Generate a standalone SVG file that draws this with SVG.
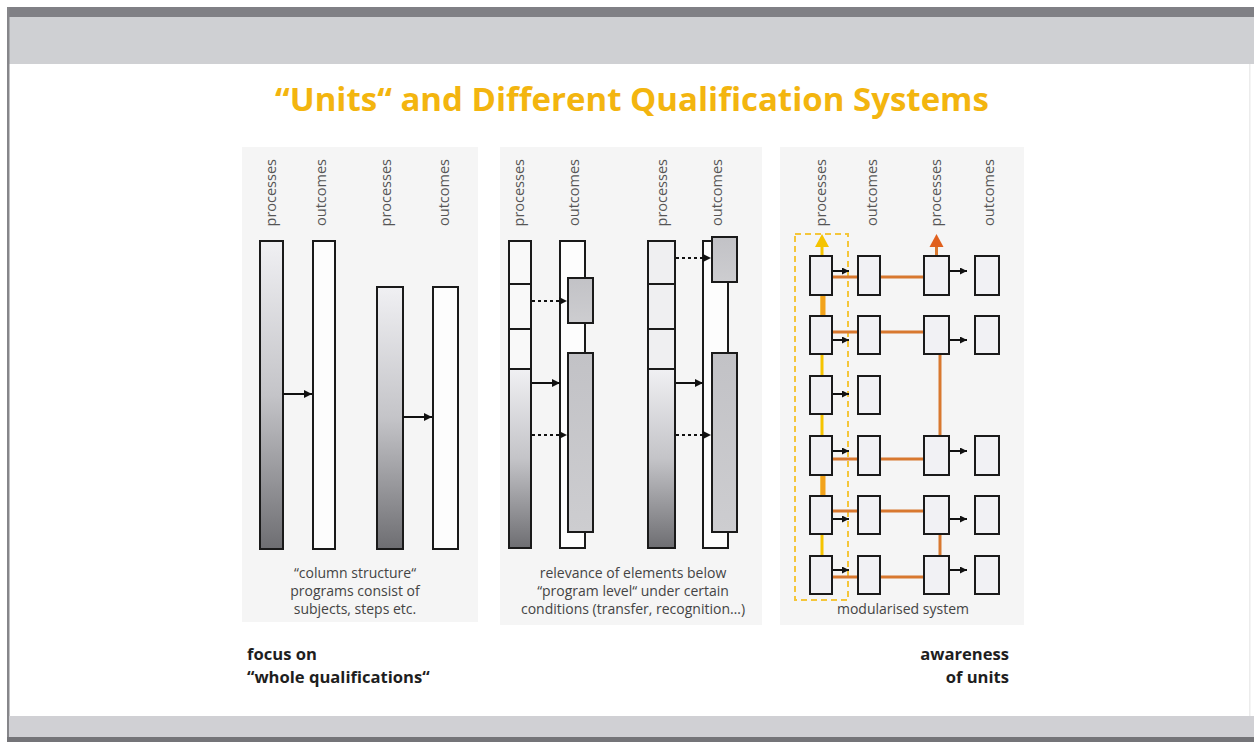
<svg xmlns="http://www.w3.org/2000/svg" width="1254" height="742" viewBox="0 0 1254 742">
<defs>
<style>
.lbl{font-family:"Open Sans","Liberation Sans",sans-serif;font-size:14.5px;fill:#555;}
.cap{font-family:"Open Sans","Liberation Sans",sans-serif;font-size:14px;fill:#444;text-anchor:middle;}
.bold{font-family:"Open Sans","Liberation Sans",sans-serif;font-size:16.6px;font-weight:bold;fill:#1e1e1e;}
.bar{stroke:#1a1a1a;stroke-width:2;}
.white{fill:#fdfdfd;}
.gray{fill:url(#gGray);}
.proc{fill:url(#gProc);}
.box{fill:#f1f1f4;stroke:#1a1a1a;stroke-width:2;}
.arr{stroke:#111;stroke-width:2;fill:none;marker-end:url(#ah);}
.dot{stroke:#111;stroke-width:2;fill:none;stroke-dasharray:3 3;marker-end:url(#ah);}
.sarr{stroke:#111;stroke-width:2;fill:none;marker-end:url(#ahs);}
.or{stroke:#d8782f;stroke-width:3;fill:none;}
.panel{fill:#f5f5f5;}
</style>
<linearGradient id="gProc" x1="0" y1="0" x2="0" y2="1">
<stop offset="0" stop-color="#f0f0f3"/>
<stop offset="0.5" stop-color="#c4c4c8"/>
<stop offset="1" stop-color="#6e6e72"/>
</linearGradient>
<linearGradient id="gGray" x1="0" y1="0" x2="0" y2="1">
<stop offset="0" stop-color="#c2c2c6"/>
<stop offset="1" stop-color="#cdcdd0"/>
</linearGradient>
<marker id="ah" markerUnits="userSpaceOnUse" markerWidth="9" markerHeight="8" refX="8" refY="4" orient="auto">
<path d="M0,0 L8,4 L0,8 z" fill="#111"/>
</marker>
<marker id="ahs" markerUnits="userSpaceOnUse" markerWidth="8" markerHeight="7" refX="7" refY="3.5" orient="auto">
<path d="M0,0 L7,3.5 L0,7 z" fill="#111"/>
</marker>
</defs>

<g id="frame">
<rect x="0" y="0" width="1254" height="742" fill="#ffffff"/>
<rect x="7" y="7" width="1247" height="10" fill="#808085"/>
<rect x="9" y="17" width="1245" height="47" fill="#cfd0d3"/>
<rect x="7" y="7" width="2.5" height="735" fill="#86868a"/>
<rect x="9" y="716" width="1245" height="21" fill="#d0d0d4"/>
<rect x="7" y="737" width="1247" height="5" fill="#747478"/>
<rect x="1249" y="64" width="1.5" height="652" fill="#ececec"/>
</g>

<text id="title" x="632" y="111" text-anchor="middle" font-family="'Open Sans','Liberation Sans',sans-serif" font-size="33" font-weight="bold" fill="#f3b50f">“Units“ and Different Qualification Systems</text>

<g id="panel1">
<rect class="panel" x="242" y="147" width="236" height="475"/>
<text class="lbl" text-anchor="end" transform="translate(276,159) rotate(-90)">processes</text>
<text class="lbl" text-anchor="end" transform="translate(326,159) rotate(-90)">outcomes</text>
<text class="lbl" text-anchor="end" transform="translate(391,159) rotate(-90)">processes</text>
<text class="lbl" text-anchor="end" transform="translate(449,159) rotate(-90)">outcomes</text>
<g id="p1-proc1"><rect class="bar proc" x="260" y="241" width="23" height="308"/></g>
<g id="p1-out1"><rect class="bar white" x="313" y="241" width="22" height="308"/></g>
<g id="p1-proc2"><rect class="bar proc" x="377" y="287" width="26" height="262"/></g>
<g id="p1-out2"><rect class="bar white" x="433" y="287" width="25" height="262"/></g>
<text class="cap" x="355" y="578">“column structure“</text>
<text class="cap" x="355" y="596">programs consist of</text>
<text class="cap" x="355" y="614">subjects, steps etc.</text>
</g>

<g id="panel2">
<rect class="panel" x="500" y="147" width="262" height="478"/>
<text class="lbl" text-anchor="end" transform="translate(524,159) rotate(-90)">processes</text>
<text class="lbl" text-anchor="end" transform="translate(579,159) rotate(-90)">outcomes</text>
<text class="lbl" text-anchor="end" transform="translate(667,159) rotate(-90)">processes</text>
<text class="lbl" text-anchor="end" transform="translate(722,159) rotate(-90)">outcomes</text>
<g id="p2-proc1">
<rect class="bar" fill="#f9f9f9" x="509" y="241" width="22" height="128"/>
<rect class="bar proc" x="509" y="369" width="22" height="179"/>
<line class="bar" x1="509" y1="284" x2="531" y2="284"/>
<line class="bar" x1="509" y1="329" x2="531" y2="329"/>
</g>
<g id="p2-out1">
<rect class="bar white" x="560" y="241" width="25" height="307"/>
<rect class="bar gray" x="568" y="278" width="25" height="45"/>
<rect class="bar gray" x="568" y="353" width="25" height="179"/>
</g>
<g id="p2-proc2">
<rect class="bar" fill="#efeff1" x="648" y="241" width="27" height="128"/>
<rect class="bar proc" x="648" y="369" width="27" height="179"/>
<line class="bar" x1="648" y1="284" x2="675" y2="284"/>
<line class="bar" x1="648" y1="329" x2="675" y2="329"/>
</g>
<g id="p2-out2">
<rect class="bar white" x="703" y="241" width="25" height="307"/>
<rect class="bar gray" x="712" y="237" width="25" height="45"/>
<rect class="bar gray" x="712" y="353" width="25" height="179"/>
</g>
<text class="cap" x="633" y="578">relevance of elements below</text>
<text class="cap" x="633" y="596">“program level“ under certain</text>
<text class="cap" x="633" y="614">conditions (transfer, recognition…)</text>
</g>

<g id="panel3">
<rect class="panel" x="780" y="147" width="244" height="478"/>
<text class="lbl" text-anchor="end" transform="translate(826,159) rotate(-90)">processes</text>
<text class="lbl" text-anchor="end" transform="translate(877,159) rotate(-90)">outcomes</text>
<text class="lbl" text-anchor="end" transform="translate(941,159) rotate(-90)">processes</text>
<text class="lbl" text-anchor="end" transform="translate(994,159) rotate(-90)">outcomes</text>
<rect x="795" y="234" width="53" height="366" fill="none" stroke="#f4c63a" stroke-width="2" stroke-dasharray="6 4"/>
</g>

<g id="connectors">
<line class="arr" x1="283" y1="394" x2="312" y2="394"/>
<line class="arr" x1="403" y1="417" x2="432" y2="417"/>
<line class="dot" x1="532" y1="301" x2="567" y2="301"/>
<line class="arr" x1="532" y1="383" x2="560" y2="383"/>
<line class="dot" x1="532" y1="435" x2="567" y2="435"/>
<line class="dot" x1="676" y1="258" x2="711" y2="258"/>
<line class="arr" x1="676" y1="383" x2="703" y2="383"/>
<line class="dot" x1="676" y1="435" x2="711" y2="435"/>
<line x1="822" y1="244" x2="822" y2="575" stroke="#f5c400" stroke-width="3"/>
<line x1="823" y1="295" x2="823" y2="316" stroke="#f2a31c" stroke-width="5"/>
<line x1="823" y1="475" x2="823" y2="496" stroke="#f2a31c" stroke-width="5"/>
<polygon points="822,234 815,247 829,247" fill="#f5c400"/>
<line class="or" x1="936.5" y1="245" x2="936.5" y2="256" stroke="#e0601e"/>
<polygon points="936.5,234 929.5,247 943.5,247" fill="#e0601e"/>
<line class="or" x1="832" y1="277" x2="924" y2="277"/>
<line class="or" x1="832" y1="332" x2="924" y2="332"/>
<line class="or" x1="832" y1="459" x2="924" y2="459"/>
<line class="or" x1="832" y1="511" x2="924" y2="511"/>
<line class="or" x1="832" y1="577" x2="924" y2="577"/>
<line class="or" x1="940" y1="355" x2="940" y2="436"/>
<line class="or" x1="940" y1="535" x2="940" y2="556"/>
</g>

<g id="p3-nodes">
<g id="a1"><rect class="box" x="810" y="256" width="22" height="39"/></g>
<g id="b1"><rect class="box" x="858" y="256" width="22" height="39"/></g>
<g id="c1"><rect class="box" x="924" y="256" width="25" height="39"/></g>
<g id="d1"><rect class="box" x="975" y="256" width="24" height="39"/></g>
<g id="a2"><rect class="box" x="810" y="316" width="22" height="38"/></g>
<g id="b2"><rect class="box" x="858" y="316" width="22" height="38"/></g>
<g id="c2"><rect class="box" x="924" y="316" width="25" height="38"/></g>
<g id="d2"><rect class="box" x="975" y="316" width="24" height="38"/></g>
<g id="a3"><rect class="box" x="810" y="376" width="22" height="38"/></g>
<g id="b3"><rect class="box" x="858" y="376" width="22" height="38"/></g>
<g id="a4"><rect class="box" x="810" y="436" width="22" height="39"/></g>
<g id="b4"><rect class="box" x="858" y="436" width="22" height="39"/></g>
<g id="c4"><rect class="box" x="924" y="436" width="25" height="39"/></g>
<g id="d4"><rect class="box" x="975" y="436" width="24" height="39"/></g>
<g id="a5"><rect class="box" x="810" y="496" width="22" height="38"/></g>
<g id="b5"><rect class="box" x="858" y="496" width="22" height="38"/></g>
<g id="c5"><rect class="box" x="924" y="496" width="25" height="38"/></g>
<g id="d5"><rect class="box" x="975" y="496" width="24" height="38"/></g>
<g id="a6"><rect class="box" x="810" y="556" width="22" height="38"/></g>
<g id="b6"><rect class="box" x="858" y="556" width="22" height="38"/></g>
<g id="c6"><rect class="box" x="924" y="556" width="25" height="38"/></g>
<g id="d6"><rect class="box" x="975" y="556" width="24" height="38"/></g>
</g>

<g id="p3-arrows">
<line class="sarr" x1="833" y1="271" x2="849" y2="271"/>
<line class="sarr" x1="833" y1="340" x2="849" y2="340"/>
<line class="sarr" x1="833" y1="394" x2="849" y2="394"/>
<line class="sarr" x1="833" y1="451" x2="849" y2="451"/>
<line class="sarr" x1="833" y1="519" x2="849" y2="519"/>
<line class="sarr" x1="833" y1="570" x2="849" y2="570"/>
<line class="sarr" x1="950" y1="271" x2="967" y2="271"/>
<line class="sarr" x1="950" y1="340" x2="967" y2="340"/>
<line class="sarr" x1="950" y1="451" x2="967" y2="451"/>
<line class="sarr" x1="950" y1="519" x2="967" y2="519"/>
<line class="sarr" x1="950" y1="570" x2="967" y2="570"/>
</g>

<text class="cap" x="903" y="614">modularised system</text>

<g id="notes">
<text class="bold" x="247" y="660">focus on</text>
<text class="bold" x="247" y="683">“whole qualifications“</text>
<text class="bold" x="1009" y="660" text-anchor="end">awareness</text>
<text class="bold" x="1009" y="683" text-anchor="end">of units</text>
</g>
</svg>
